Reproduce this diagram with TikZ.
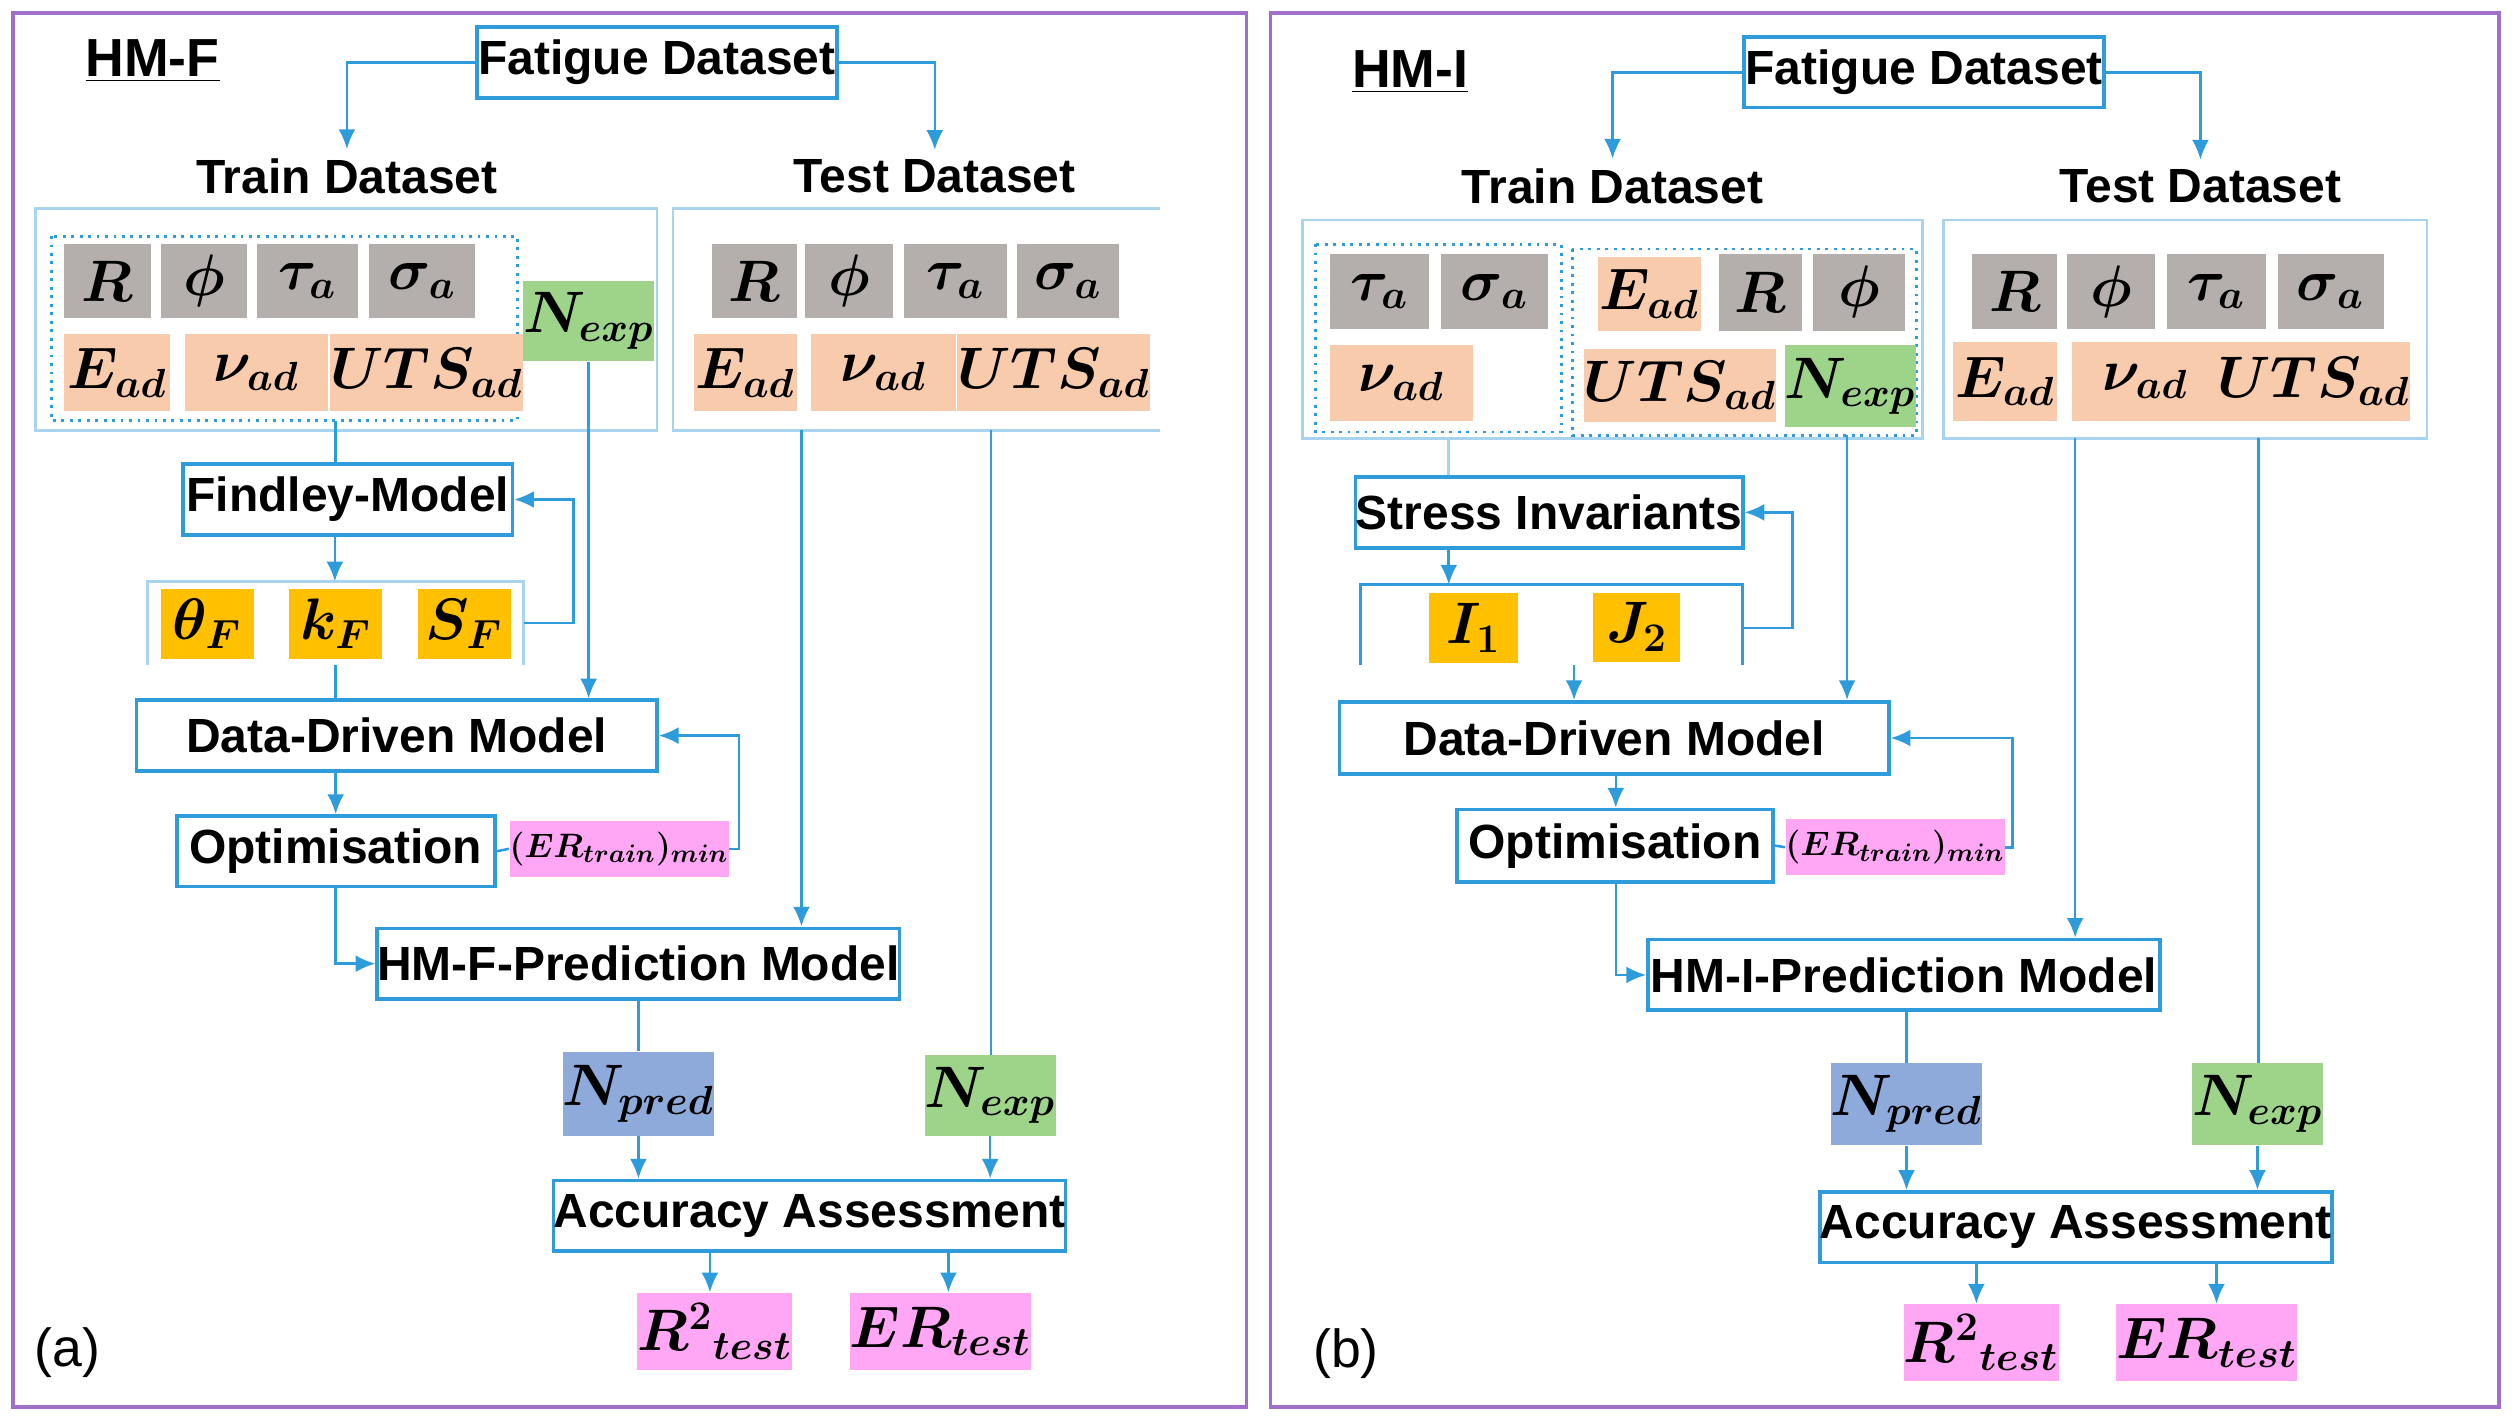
\documentclass[tikz,border=0pt]{standalone}
\usepackage{fontspec}
\setmainfont{Liberation Sans}
\usetikzlibrary{arrows.meta}
\definecolor{lb}{HTML}{2E9BDB}
\definecolor{lbf}{HTML}{A9D4F0}
\definecolor{pur}{HTML}{A070C8}
\definecolor{cg}{HTML}{B4AFAD}
\definecolor{cp}{HTML}{F8CBAD}
\definecolor{cgr}{HTML}{9DD48A}
\definecolor{cy}{HTML}{FFC000}
\definecolor{cb}{HTML}{8EAADB}
\definecolor{cpk}{HTML}{FFA6F5}
\newcommand\bx[7]{\node[#2, inner sep=0pt, minimum width={(#5-#3)*0.02cm}, minimum height={(#6-#4)*0.02cm}] (#1) at ({(#3+#5)/2},{(#4+#6)/2}) {#7};}
\tikzset{
 box/.style={draw=lb, line width=1.3pt, fill=white, font=\fontsize{17}{19}\selectfont\bfseries},
 cell/.style={fill=#1, font=\fontsize{21}{23}\selectfont\boldmath},
 ln/.style={draw=lb, line width=0.9pt},
 ar/.style={ln, -{Latex[length=7pt,width=6pt]}},
 cont/.style={draw=lbf, line width=1pt},
 dot/.style={draw=lb, line width=1pt, dotted},
 ttl/.style={font=\fontsize{17}{19}\selectfont\bfseries},
}
\begin{document}
\begin{tikzpicture}[x=0.02cm,y=-0.02cm]
\useasboundingbox (0,0) rectangle (1564,884);
\fill[white] (0,0) rectangle (1564,884);
\draw[pur, line width=1.3pt] (8,8) rectangle (776,876);
\draw[pur, line width=1.3pt] (791,8) rectangle (1556,876);
% ===== panel a =====
\node[ttl, font=\fontsize{19}{21}\selectfont\bfseries] (la) at (95,38) {\underline{HM-F}};
\bx{fa}{box}{297}{17}{521}{61}{Fatigue Dataset}
\node[ttl] (tra) at (216,110) {Train Dataset};
\node[ttl] (tea) at (582,110) {Test Dataset};
\draw[cont] (22,268) rectangle (409,130);
\draw[cont] (722,268) -- (419,268) -- (419,130) -- (722,130);
\coordinate (trca) at (209,262);
\draw[dot] (32,147) rectangle (322,262);
\bx{ra}{cell=cg}{40}{152}{94}{198}{$R$}
\bx{pa}{cell=cg}{100}{152}{154}{198}{$\phi$}
\bx{ta}{cell=cg}{160}{152}{223}{198}{$\tau_a$}
\bx{sa}{cell=cg}{230}{152}{296}{198}{$\sigma_a$}
\bx{ea}{cell=cp}{40}{208}{106}{256}{$E_{ad}$}
\bx{na}{cell=cp}{115}{208}{204}{256}{$\nu_{ad}$}
\bx{ua}{cell=cp}{213}{208}{318}{256}{$UTS_{ad}$}
\bx{nxa}{cell=cgr}{330}{175}{403}{225}{$N_{exp}$}
\bx{rta}{cell=cg}{443}{152}{496}{198}{$R$}
\bx{pta}{cell=cg}{501}{152}{556}{198}{$\phi$}
\bx{tta}{cell=cg}{563}{152}{627}{198}{$\tau_a$}
\bx{sta}{cell=cg}{633}{152}{697}{198}{$\sigma_a$}
\bx{eta}{cell=cp}{432}{208}{496}{256}{$E_{ad}$}
\bx{nta}{cell=cp}{505}{208}{595}{256}{$\nu_{ad}$}
\bx{uta}{cell=cp}{604}{208}{708}{256}{$UTS_{ad}$}
\bx{fma}{box}{114}{289}{319}{333}{Findley-Model}
\draw[cont] (92,414) -- (92,362) -- (326,362) -- (326,414);
\bx{tha}{cell=cy}{100}{367}{158}{410}{$\theta_F$}
\bx{ka}{cell=cy}{180}{367}{238}{410}{$k_F$}
\bx{sfa}{cell=cy}{260}{367}{318}{410}{$S_F$}
\bx{dda}{box}{85}{436}{409}{480}{Data-Driven Model}
\bx{opa}{box}{110}{508}{308}{552}{Optimisation}
\bx{era}{cell=cpk, font=\fontsize{13}{15}\selectfont\boldmath}{326}{511}{445}{546}{$(ER_{train})_{min}$}
\bx{hpa}{box}{238}{578}{557}{622}{HM-F-Prediction Model}
\bx{npa}{cell=cb}{357}{655}{438}{707}{$N_{pred}$}
\bx{nea}{cell=cgr}{580}{657}{653}{707}{$N_{exp}$}
\bx{aca}{box}{349}{735}{659}{779}{Accuracy Assessment}
\bx{r2a}{cell=cpk}{398}{805}{492}{853}{$R^2{}_{test}$}
\bx{eea}{cell=cpk}{538}{805}{633}{853}{$ER_{test}$}
\node[font=\fontsize{19}{21}\selectfont] (pa1) at (42,842) {(a)};
% connectors a
\draw[ar] (fa.west) -| (tra.north);
\draw[ar] (fa.east) -| (tea.north);
\draw[ln] (trca) -- (fma.north -| trca);
\draw[ar] (fma.south) ++(-8,0) coordinate (f1) -- (f1 |- 0,362);
\coordinate (pfb) at (326,388);
\draw[ar] (pfb) -- (357,388) |- (fma.east);
\draw[ln] (209,414) -- (209,436);
\draw[ar] (nxa.south) -- (nxa.south |- dda.north);
\coordinate (oa) at (209,480);
\draw[ar] (oa) -- (oa |- opa.north);
\draw[ln] (opa.east) -- (era.west);
\draw[ar] (era.east) -- (460,528.5) |- (dda.east);
\coordinate (ob) at (209,552);
\draw[ar] (ob) |- (hpa.west);
\coordinate (t1a) at (499,268);
\coordinate (t2a) at (617,268);
\draw[ar] (t1a) -- (t1a |- hpa.north);
\draw[ln] (t2a) -- (t2a |- nea.north);
\draw[ln] (hpa.south -| npa.north) -- (npa.north);
\draw[ar] (npa.south) -- (npa.south |- aca.north);
\draw[ar] (nea.south) -- (nea.south |- aca.north);
\draw[ar] (aca.south -| r2a.north) ++(-3,0) coordinate (q1) -- (q1 |- r2a.north);
\draw[ar] (aca.south -| eea.north) ++(5,0) coordinate (q2) -- (q2 |- eea.north);
% ===== panel b =====
\node[ttl, font=\fontsize{19}{21}\selectfont\bfseries] (lb) at (878,45) {\underline{HM-I}};
\bx{fb}{box}{1086}{23}{1310}{67}{Fatigue Dataset}
\node[ttl] (trb) at (1004,116) {Train Dataset};
\node[ttl] (teb) at (1370,116) {Test Dataset};
\draw[cont] (811,137) rectangle (1197,273);
\draw[cont] (1210,137) rectangle (1511,273);
\draw[dot] (819,152) rectangle (972,269);
\draw[dot] (979,155) rectangle (1193,271);
\bx{tb}{cell=cg}{828}{158}{890}{205}{$\tau_a$}
\bx{sb}{cell=cg}{897}{158}{964}{205}{$\sigma_a$}
\bx{nb}{cell=cp}{828}{215}{917}{262}{$\nu_{ad}$}
\bx{eb}{cell=cp}{995}{160}{1059}{206}{$E_{ad}$}
\bx{rb}{cell=cg}{1070}{158}{1122}{206}{$R$}
\bx{pb}{cell=cg}{1129}{158}{1186}{206}{$\phi$}
\bx{ub}{cell=cp}{995}{217}{1097}{263}{$UTS_{ad}$}
\bx{nxb}{cell=cgr}{1115}{215}{1189}{266}{$N_{exp}$}
\bx{rtb}{cell=cg}{1228}{158}{1281}{205}{$R$}
\bx{ptb}{cell=cg}{1287}{158}{1342}{205}{$\phi$}
\bx{ttb}{cell=cg}{1349}{158}{1411}{205}{$\tau_a$}
\bx{stb}{cell=cg}{1418}{158}{1484}{205}{$\sigma_a$}
\bx{etb}{cell=cp}{1216}{213}{1281}{262}{$E_{ad}$}
\bx{ntb}{cell=cp}{1290}{213}{1381}{262}{$\nu_{ad}$}
\bx{utb}{cell=cp}{1389}{213}{1492}{262}{$UTS_{ad}$}
\bx{sib}{box}{844}{297}{1085}{341}{Stress Invariants}
\draw[draw=lb, line width=1.1pt] (847,414) -- (847,364) -- (1085,364) -- (1085,414);
\bx{i1b}{cell=cy}{890}{369}{945}{413}{$I_1$}
\bx{j2b}{cell=cy}{992}{369}{1046}{412}{$J_2$}
\bx{ddb}{box}{834}{437}{1176}{482}{Data-Driven Model}
\bx{opb}{box}{907}{504}{1104}{549}{Optimisation}
\bx{erb}{cell=cpk, font=\fontsize{13}{15}\selectfont\boldmath}{1120}{510}{1240}{545}{$(ER_{train})_{min}$}
\bx{hpb}{box}{1026}{585}{1345}{629}{HM-I-Prediction Model}
\bx{npb}{cell=cb}{1147}{662}{1227}{713}{$N_{pred}$}
\bx{neb}{cell=cgr}{1369}{662}{1442}{713}{$N_{exp}$}
\bx{acb}{box}{1137}{742}{1448}{786}{Accuracy Assessment}
\bx{r2b}{cell=cpk}{1186}{812}{1281}{860}{$R^2{}_{test}$}
\bx{eeb}{cell=cpk}{1326}{812}{1422}{860}{$ER_{test}$}
\node[font=\fontsize{19}{21}\selectfont] (pb1) at (838,843) {(b)};
% connectors b
\draw[ar] (fb.west) -| (trb.north);
\draw[ar] (fb.east) -| (teb.north);
\coordinate (trcb) at (902,273);
\draw[ln, draw=lbf] (trcb) -- (trcb |- sib.north);
\coordinate (sb1) at (902,341);
\draw[ar] (sb1) -- (902,364);
\draw[ar] (1085,391) -- (1116,391) |- (sib.east);
\coordinate (pbb) at (980,414);
\draw[ar] (pbb) -- (pbb |- ddb.north);
\coordinate (nxl) at (1150,271);
\draw[ar] (nxl) -- (nxl |- ddb.north);
\coordinate (d1b) at (1006,482);
\draw[ar] (d1b) -- (d1b |- opb.north);
\draw[ln] (opb.east) -- (erb.west);
\draw[ar] (erb.east) -- (1253,527.5) |- (ddb.east);
\coordinate (o2b) at (1006,549);
\draw[ar] (o2b) |- (hpb.west);
\coordinate (t1b) at (1292,273);
\coordinate (t2b) at (1406,273);
\draw[ar] (t1b) -- (t1b |- hpb.north);
\draw[ln] (t2b) -- (t2b |- neb.north);
\draw[ln] (hpb.south -| npb.north) -- (npb.north);
\draw[ar] (npb.south) -- (npb.south |- acb.north);
\draw[ar] (neb.south) -- (neb.south |- acb.north);
\draw[ar] (acb.south -| r2b.north) ++(-3,0) coordinate (q3) -- (q3 |- r2b.north);
\draw[ar] (acb.south -| eeb.north) ++(6,0) coordinate (q4) -- (q4 |- eeb.north);
\end{tikzpicture}
\end{document}
